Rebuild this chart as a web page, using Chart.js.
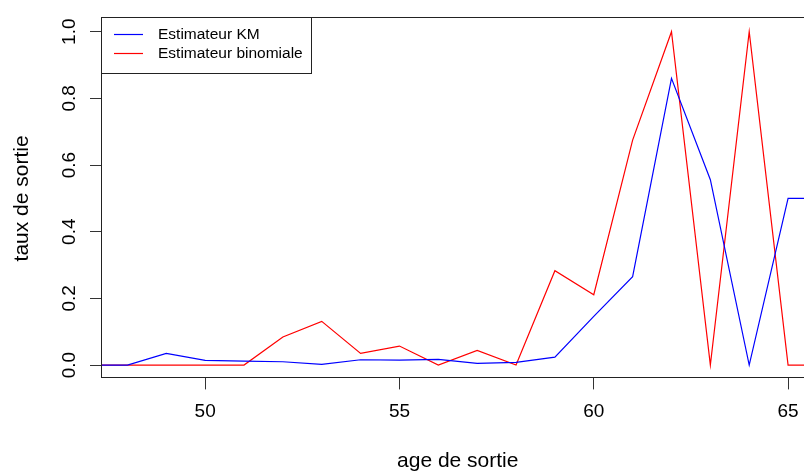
<!DOCTYPE html>
<html lang="fr">
<head>
    <meta charset="UTF-8">
    <title>Taux de sortie par age</title>
    <script src="https://cdn.jsdelivr.net/npm/chart.js"></script>
    <style>
        html, body { margin: 0; padding: 0; background: #fff; overflow: hidden; }
        #wrap { width: 804px; height: 471px; overflow: hidden; }
    </style>
</head>
<body>
    <div id="wrap">
        <canvas id="tauxChart" width="830" height="471"></canvas>
    </div>

    <script>
        // values
        const ages = [47, 48, 49, 50, 51, 52, 53, 54, 55, 56, 57, 58, 59, 60, 61, 62, 63, 64, 65, 66];
        const kmValues = [0, 0, 0.035, 0.014, 0.012, 0.01, 0.002, 0.016, 0.015, 0.017, 0.005, 0.008, 0.024, 0.146, 0.265, 0.86, 0.556, 0, 0.5, 0.5];
        const binomValues = [0, 0, 0, 0, 0, 0.084, 0.131, 0.035, 0.057, 0, 0.044, 0, 0.283, 0.211, 0.675, 1.0, 0, 1.0, 0, 0];
        const xTicks = [50, 55, 60, 65];
        const yTicks = [0, 0.2, 0.4, 0.6, 0.8, 1.0];
        const seriesLabels = ['Estimateur KM', 'Estimateur binomiale'];
        const seriesColors = ['#0000ff', '#ff0000'];

        const FONT = "'Liberation Sans', Arial, Helvetica, sans-serif";

        // R-like box, legend and axis titles
        const rStyle = {
            id: 'rStyle',
            beforeDraw(chart) {
                const ctx = chart.ctx;
                ctx.save();
                ctx.fillStyle = '#fff';
                ctx.fillRect(0, 0, chart.width, chart.height);
                ctx.restore();
            },
            afterDatasetsDraw(chart) {
                const ctx = chart.ctx;
                const a = chart.chartArea;
                ctx.save();
                ctx.strokeStyle = '#222';
                ctx.lineWidth = 1;
                ctx.strokeRect(Math.round(a.left) + 0.5, Math.round(a.top) - 0.5,
                    Math.round(a.right - a.left), Math.round(a.bottom - a.top));

                // legend
                const lx = Math.round(a.left) + 0.5, ly = Math.round(a.top) - 0.5;
                ctx.fillStyle = '#fff';
                ctx.fillRect(lx, ly, 210, 56);
                ctx.strokeRect(lx, ly, 210, 56);
                ctx.font = '15.5px ' + FONT;
                ctx.textBaseline = 'middle';
                ctx.textAlign = 'left';
                seriesLabels.forEach((label, i) => {
                    const y = 34.5 + i * 19;
                    ctx.strokeStyle = seriesColors[i];
                    ctx.lineWidth = 1.2;
                    ctx.beginPath();
                    ctx.moveTo(114, y);
                    ctx.lineTo(143, y);
                    ctx.stroke();
                    ctx.fillStyle = '#000';
                    ctx.fillText(label, 158, y + 0.5);
                });

                // axis titles
                ctx.fillStyle = '#000';
                ctx.font = '21px ' + FONT;
                ctx.textAlign = 'center';
                ctx.textBaseline = 'alphabetic';
                ctx.fillText('age de sortie', (a.left + a.right) / 2, 467);
                ctx.translate(28, (a.top + a.bottom) / 2);
                ctx.rotate(-Math.PI / 2);
                ctx.fillText('taux de sortie', 0, 0);
                ctx.restore();
            }
        };

        new Chart(document.getElementById('tauxChart'), {
            type: 'line',
            data: {
                datasets: seriesLabels.map((label, i) => ({
                    label: label,
                    data: ages.map((age, j) => ({ x: age, y: (i === 0 ? kmValues : binomValues)[j] })),
                    borderColor: seriesColors[i],
                    borderWidth: 1.2,
                    pointRadius: 0,
                    tension: 0,
                    fill: false
                }))
            },
            options: {
                responsive: false,
                animation: false,
                devicePixelRatio: 1,
                layout: { padding: { top: 15.6, right: 15.5, left: 0, bottom: 0 } },
                plugins: { legend: { display: false }, tooltip: { enabled: false } },
                scales: {
                    x: {
                        type: 'linear',
                        min: 47.32,
                        max: 65.68,
                        afterBuildTicks: s => { s.ticks = xTicks.map(v => ({ value: v })); },
                        afterFit: s => { s.height = 92.6; },
                        grid: { drawOnChartArea: false, tickLength: 11, color: '#333' },
                        border: { display: false },
                        ticks: { color: '#000', font: { family: FONT, size: 19 }, padding: 11, maxRotation: 0 }
                    },
                    y: {
                        min: -0.04,
                        max: 1.04,
                        afterBuildTicks: s => { s.ticks = yTicks.map(v => ({ value: v })); },
                        afterFit: s => { s.width = 101; },
                        grid: { drawOnChartArea: false, tickLength: 11, color: '#333' },
                        border: { display: false },
                        ticks: {
                            color: '#000',
                            font: { family: FONT, size: 19 },
                            minRotation: 90,
                            maxRotation: 90,
                            crossAlign: 'center',
                            padding: 7,
                            callback: v => v.toFixed(1)
                        }
                    }
                }
            },
            plugins: [rStyle]
        });
    </script>
</body>
</html>
